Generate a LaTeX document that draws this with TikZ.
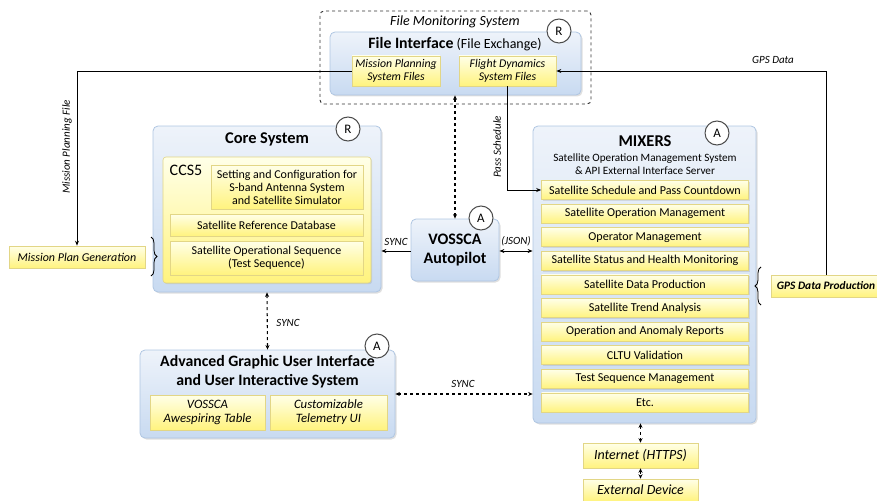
\documentclass[tikz,border=0pt]{standalone}
\usepackage{fontspec}
\setmainfont{Carlito}
\usetikzlibrary{arrows.meta,shadows,decorations.pathreplacing,calc}
\definecolor{bluetop}{HTML}{EEF3FA}
\definecolor{bluebot}{HTML}{C8DAF1}
\definecolor{blueedge}{HTML}{AFC6E2}
\definecolor{yeltop}{HTML}{FFFFE8}
\definecolor{yelbot}{HTML}{FFF37E}
\definecolor{yeledge}{HTML}{E2D686}
\begin{document}
\begin{tikzpicture}[x=1pt,y=-1pt,
  bluebox/.style={draw=blueedge, line width=0.8pt, rounded corners=5pt, top color=bluetop, bottom color=bluebot,
    drop shadow={opacity=0.25, shadow xshift=1.5pt, shadow yshift=-1.5pt}, inner sep=0pt},
  yb/.style={draw=yeledge, line width=0.6pt, top color=yeltop, bottom color=yelbot,
    drop shadow={opacity=0.2, shadow xshift=1.2pt, shadow yshift=-1.2pt}, inner sep=1pt, align=center},
  item/.style={yb, minimum width=207pt, minimum height=19pt, font=\fontsize{12.1}{13}\selectfont},
  circ/.style={circle, draw=black!70, line width=1pt, fill=white, minimum size=24pt, inner sep=0pt, font=\fontsize{13}{13}\selectfont},
  lab/.style={font=\fontsize{11}{12}\selectfont\itshape, inner sep=1pt},
  arr/.style={line width=0.9pt, -{Stealth[length=5pt,width=4pt]}},
  darr/.style={line width=0.9pt, {Stealth[length=5pt,width=4pt]}-{Stealth[length=5pt,width=4pt]}},
  ddarr/.style={line width=1.1pt, dashed, {Stealth[length=4.5pt,width=4pt]}-{Stealth[length=4.5pt,width=4pt]}},
  bracestyle/.style={line width=0.8pt, decorate, decoration={brace, amplitude=6pt}}
]
\useasboundingbox (0,0) rectangle (877,500);

% ---------- File Monitoring System ----------
\node[draw=black!80, dashed, line width=0.9pt, rounded corners=4pt, minimum width=271pt, minimum height=93pt, inner sep=0pt] (fms) at (455.5,57.5) {};
\node[font=\fontsize{14}{15}\selectfont\itshape] (fmslab) at (455,22) {File Monitoring System};
\node[bluebox, minimum width=251pt, minimum height=63pt] (fi) at (455.5,63.5) {};
\node[font=\fontsize{14}{15}\selectfont] (filab) at (455,44) {{\fontsize{15.8}{16}\selectfont\bfseries File Interface} (File Exchange)};
\node[yb, minimum width=88pt, minimum height=30pt, font=\fontsize{11.8}{12.5}\selectfont\itshape] (mpsf) at (396,71) {Mission Planning\\System Files};
\node[yb, minimum width=97pt, minimum height=30pt, font=\fontsize{11.8}{12.5}\selectfont\itshape] (fds) at (507.5,71) {Flight Dynamics\\System Files};
\node[circ] (cR1) at (559,31) {R};

% ---------- Core System ----------
\node[bluebox, minimum width=228pt, minimum height=166pt] (core) at (267,209) {};
\node[font=\fontsize{16.4}{17}\selectfont\bfseries] (coretitle) at (267,139) {Core System};
\node[circ] (cR2) at (348,129) {R};
\node[yb, minimum width=208pt, minimum height=126pt, rounded corners=3pt] (ccs) at (267,220) {};
\node[font=\fontsize{16}{17}\selectfont] (ccslab) at (186,170) {CCS5};
\node[yb, minimum width=152pt, minimum height=44pt, font=\fontsize{12}{13}\selectfont] (setting) at (287,187) {Setting and Configuration for\\S-band Antenna System\\and Satellite Simulator};
\node[yb, minimum width=193pt, minimum height=22pt, font=\fontsize{12}{13}\selectfont] (srd) at (266.5,225) {Satellite Reference Database};
\node[yb, minimum width=193pt, minimum height=34pt, font=\fontsize{12}{13.5}\selectfont] (sos) at (266.5,258) {Satellite Operational Sequence\\(Test Sequence)};

% ---------- Mission Plan Generation ----------
\node[yb, minimum width=136pt, minimum height=22pt, font=\fontsize{12}{13}\selectfont\itshape] (mpg) at (77,257) {Mission Plan Generation};
\draw[bracestyle] (151,237) -- (151,276);

% ---------- VOSSCA Autopilot ----------
\node[bluebox, minimum width=88pt, minimum height=62pt, align=center, font=\fontsize{16}{19}\selectfont\bfseries] (vossca) at (455,250) {VOSSCA\\Autopilot};
\node[circ] (cA1) at (481,218) {A};

% ---------- MIXERS ----------
\node[bluebox, minimum width=223pt, minimum height=297pt] (mixers) at (644.5,274.5) {};
\node[font=\fontsize{16.5}{17}\selectfont\bfseries] (mixtitle) at (645,141) {MIXERS};
\node[align=center, font=\fontsize{11.2}{13}\selectfont] (mixsub) at (645,164) {Satellite Operation Management System\\\& API External Interface Server};
\node[circ] (cA2) at (717,133) {A};
\foreach \t [count=\i from 0] in {Satellite Schedule and Pass Countdown, Satellite Operation Management, Operator Management, Satellite Status and Health Monitoring, Satellite Data Production, Satellite Trend Analysis, Operation and Anomaly Reports, CLTU Validation, Test Sequence Management, Etc.}
  \node[item] (m\i) at (645,{190+23.6*\i}) {\t};

% ---------- GPS Data Production ----------
\node[yb, minimum width=110pt, minimum height=22pt, font=\fontsize{11.4}{12}\selectfont\itshape\bfseries] (gps) at (826,286) {GPS Data Production};
\draw[bracestyle] (761,305) -- (761,267);

% ---------- Advanced GUI ----------
\node[bluebox, minimum width=255pt, minimum height=88pt] (agui) at (267.5,394) {};
\node[align=center, font=\fontsize{15.8}{19}\selectfont\bfseries] (aguititle) at (267.5,372) {Advanced Graphic User Interface\\and User Interactive System};
\node[circ] (cA3) at (377,346) {A};
\node[yb, minimum width=115pt, minimum height=35pt, font=\fontsize{12.8}{14}\selectfont\itshape] (vat) at (207.5,412.5) {VOSSCA\\Awespiring Table};
\node[yb, minimum width=117pt, minimum height=35pt, font=\fontsize{12.8}{14}\selectfont\itshape] (ctu) at (328.5,412.5) {Customizable\\Telemetry UI};

% ---------- Internet / External ----------
\node[yb, minimum width=115pt, minimum height=25pt, font=\fontsize{14}{15}\selectfont\itshape] (inet) at (640.5,455.5) {Internet (HTTPS)};
\node[yb, minimum width=115pt, minimum height=22pt, font=\fontsize{14}{15}\selectfont\itshape] (ext) at (640.5,490) {External Device};

% ---------- Connectors ----------
\draw[arr] (mpsf.west) -| (mpg.north);
\node[lab, rotate=90] (mpflab) at (67,147) {Mission Planning File};
\draw[arr] (gps.north) |- (fds.east);
\node[lab] (gpslab) at (773,60) {GPS Data};
\draw[arr] (fds.south) |- (m0.west);
\node[lab, rotate=90] (pslab) at (497,147) {Pass Schedule};
\draw[ddarr] (vossca.north) -- (vossca.north |- fi.south);
\draw[arr] (vossca.west |- 0,251) -- (core.east |- 0,251);
\node[lab] (synclab1) at (396,242) {SYNC};
\draw[darr] (vossca.east |- 0,251) -- (mixers.west |- 0,251);
\node[lab] (jsonlab) at (516,241) {(JSON)};
\draw[ddarr] (core.south) -- (agui.north);
\node[lab] (synclab2) at (288,323) {SYNC};
\draw[ddarr] (agui.east |- 0,394) -- (mixers.west |- 0,394);
\node[lab] (synclab3) at (463,384) {SYNC};
\draw[ddarr] (mixers.south -| inet.north) -- (inet.north);
\draw[ddarr] (inet.south) -- (ext.north);
\end{tikzpicture}
\end{document}
